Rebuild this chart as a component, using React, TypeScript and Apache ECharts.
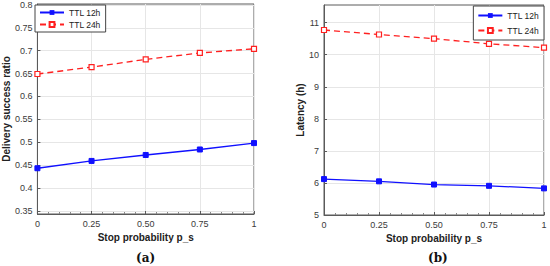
import React, { useEffect, useRef } from "react";
import * as echarts from "echarts";

const stopProb = [0, 0.25, 0.5, 0.75, 1];
const xTickLabels: Record<string, string> = { "0": "0", "0.25": "0.25", "0.5": "0.50", "0.75": "0.75", "1": "1" };
const deliveryTTL12 = [0.443, 0.459, 0.472, 0.484, 0.498];
const deliveryTTL24 = [0.649, 0.664, 0.681, 0.695, 0.704];
const latencyTTL12 = [6.12, 6.05, 5.95, 5.91, 5.83];
const latencyTTL24 = [10.77, 10.63, 10.5, 10.34, 10.22];
const deliveryTicks = [0.35, 0.4, 0.45, 0.5, 0.55, 0.6, 0.65, 0.7, 0.75, 0.8];
const latencyTicks = [5, 6, 7, 8, 9, 10, 11];
const seriesNames = ["TTL 12h", "TTL 24h"];

const FONT = "Liberation Sans, Arial, sans-serif";
const AXIS_COLOR = "#5a5a5a";
const LABEL_COLOR = "#3a3a3a";
const BLUE = "#1010ff";
const RED = "#ff2020";

function xAxis(gridIndex: number) {
  return {
    type: "value",
    gridIndex,
    min: 0,
    max: 1,
    interval: 0.25,
    name: "Stop probability p_s",
    nameLocation: "middle",
    nameGap: 18,
    nameTextStyle: { fontFamily: FONT, fontSize: 10, fontWeight: "bold", color: "#222" },
    axisLine: { show: true, lineStyle: { color: AXIS_COLOR, width: 1 } },
    axisTick: { show: true, inside: true, length: 3, lineStyle: { color: AXIS_COLOR } },
    minorTick: { show: true, splitNumber: 5, length: 2, lineStyle: { color: "#888" } },
    axisLabel: {
      fontFamily: FONT,
      fontSize: 9,
      color: LABEL_COLOR,
      margin: 5,
      formatter: (v: number) => xTickLabels[String(v)] ?? String(v),
    },
    splitLine: { show: true, lineStyle: { color: "#e6e6e6", width: 1 } },
  };
}

function yAxis(gridIndex: number, min: number, max: number, ticks: number[], name: string, fmt: (v: number) => string, nameGap: number) {
  return {
    type: "value",
    gridIndex,
    min,
    max,
    name,
    nameLocation: "middle",
    nameGap,
    nameTextStyle: { fontFamily: FONT, fontSize: 10, fontWeight: "bold", color: "#222" },
    axisLine: { show: true, lineStyle: { color: AXIS_COLOR, width: 1 } },
    axisTick: { show: true, inside: true, length: 3, lineStyle: { color: AXIS_COLOR }, customValues: ticks },
    minorTick: { show: false },
    axisLabel: { fontFamily: FONT, fontSize: 9, color: LABEL_COLOR, margin: 5, customValues: ticks, formatter: fmt },
    splitLine: { show: true, lineStyle: { color: "#e6e6e6", width: 1 }, customValues: ticks },
  };
}

function pairs(ys: number[]) {
  return stopProb.map((x, i) => [x, ys[i]]);
}

function lineSeries(name: string, data: number[][], idx: number, dashed: boolean) {
  const color = dashed ? RED : BLUE;
  return {
    type: "line",
    name,
    xAxisIndex: idx,
    yAxisIndex: idx,
    data,
    symbol: "rect",
    symbolSize: 5,
    showSymbol: true,
    lineStyle: { color, width: 1.3, type: dashed ? [6, 4] : "solid" },
    itemStyle: dashed ? { color: "#ffffff", borderColor: color, borderWidth: 1.2 } : { color, borderColor: color },
    emphasis: { disabled: true },
  };
}

export default function App() {
  const ref = useRef<HTMLDivElement>(null);
  useEffect(() => {
    if (!ref.current) return;
    const chart = echarts.init(ref.current, undefined, { renderer: "svg" });
    const legendCommon = {
      orient: "vertical",
      backgroundColor: "#ffffff",
      borderColor: "#444",
      borderWidth: 1,
      borderRadius: 0,
      padding: [3, 5, 3, 4],
      itemGap: 3,
      itemWidth: 24,
      itemHeight: 6,
      textStyle: { fontFamily: FONT, fontSize: 8.5, color: "#222" },
      data: seriesNames,
      selectedMode: false,
    };
    chart.setOption({
      animation: false,
      backgroundColor: "#ffffff",
      grid: [
        { left: 35, right: 296, top: 4, bottom: 52, show: true, borderColor: AXIS_COLOR, borderWidth: 1, backgroundColor: "transparent" },
        { left: 324, right: 6, top: 5, bottom: 51, show: true, borderColor: AXIS_COLOR, borderWidth: 1, backgroundColor: "transparent" },
      ],
      legend: [
        { ...legendCommon, left: 35, top: 5 },
        { ...legendCommon, right: 6, top: 6, padding: [5, 5, 5, 4], itemGap: 6 },
      ],
      xAxis: [xAxis(0), xAxis(1)],
      yAxis: [
        yAxis(0, 0.343, 0.802, deliveryTicks, "Delivery success ratio", (v: number) => String(Number(v.toFixed(2))), 24),
        yAxis(1, 5, 11.55, latencyTicks, "Latency (h)", (v: number) => String(Math.round(v)), 18),
      ],
      series: [
        lineSeries(seriesNames[0], pairs(deliveryTTL12), 0, false),
        lineSeries(seriesNames[1], pairs(deliveryTTL24), 0, true),
        lineSeries(seriesNames[0], pairs(latencyTTL12), 1, false),
        lineSeries(seriesNames[1], pairs(latencyTTL24), 1, true),
      ],
      graphic: [
        { type: "text", left: 136, top: 252, style: { text: "(a)", font: "bold 12px 'DejaVu Serif', serif", fill: "#111" } },
        { type: "text", left: 428, top: 252, style: { text: "(b)", font: "bold 12px 'DejaVu Serif', serif", fill: "#111" } },
      ],
    });
    return () => chart.dispose();
  }, []);
  return <div ref={ref} style={{ width: 550, height: 266, position: "absolute", left: 0, top: 0 }} />;
}
